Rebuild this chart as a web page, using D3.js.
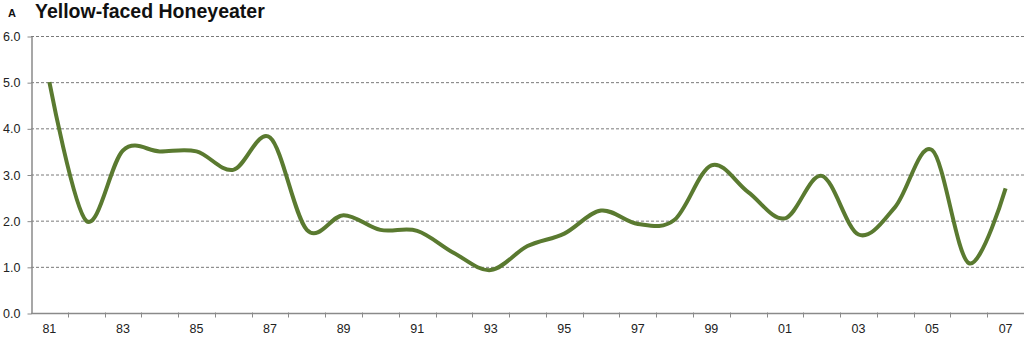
<!DOCTYPE html>
<html>
<head>
<meta charset="utf-8">
<script src="https://cdn.jsdelivr.net/npm/d3@7"></script>
<style>
  body { margin: 0; background: #fff; }
  svg { display: block; font-family: "Liberation Sans", Arial, sans-serif; }
</style>
</head>
<body>
<div class="plot"></div>
<script>
// Data
const years = d3.range(1981, 2008).map(y => String(y).slice(2));
const values = [5.0, 2.0, 3.52, 3.5, 3.5, 3.1, 3.8, 1.8, 2.12, 1.8,
                1.78, 1.3, 0.93, 1.45, 1.72, 2.22, 1.93, 2.02, 3.2, 2.62,
                2.05, 2.97, 1.7, 2.3, 3.53, 1.08, 2.7];
const yTicks = [0, 1, 2, 3, 4, 5, 6];
const title = "Yellow-faced Honeyeater";
const panel = "A";

const W = 1024, H = 337;
const margin = {top: 36, right: 0, bottom: 24, left: 31};
const w = W - margin.left - margin.right;
const h = H - margin.top - margin.bottom;

const svg = d3.select(".plot")
    .append("svg")
        .attr("width", W)
        .attr("height", H);

const g = svg.append("g")
    .attr("transform", "translate(" + margin.left + "," + margin.top + ")");

// scales
const x = d3.scaleBand()
    .domain(years)
    .range([0, w]);
const y = d3.scaleLinear()
    .domain([0, 6])
    .range([h, 0]);

// gridlines
g.selectAll(".grid")
    .data(yTicks.filter(d => d > 0))
    .enter()
    .append("line")
        .attr("class", "grid")
        .attr("x1", 0)
        .attr("x2", w)
        .attr("y1", d => y(d) + 0.5)
        .attr("y2", d => y(d) + 0.5)
        .attr("stroke", "#7a7a7a")
        .attr("stroke-width", 1)
        .attr("stroke-dasharray", "3,2");

// y axis
const yAxis = g.append("g")
    .attr("transform", "translate(0.5,0.5)")
    .call(d3.axisLeft(y).tickValues(yTicks).tickFormat(d3.format(".1f")).tickSize(4).tickSizeOuter(0));
yAxis.select(".domain").attr("stroke", "#8a8a8a").attr("stroke-width", 1.5);
yAxis.selectAll(".tick line").attr("stroke", "#8a8a8a");
yAxis.selectAll("text")
    .attr("x", -11)
    .style("font-size", "12.5px")
    .style("fill", "#222");

// x axis - ticks at band edges, labels on odd years
const xAxis = g.append("g")
    .attr("transform", "translate(0," + (h + 0.5) + ")");
xAxis.append("line")
    .attr("x1", 0).attr("x2", w)
    .attr("stroke", "#8a8a8a").attr("stroke-width", 1.5);
xAxis.selectAll(".xt")
    .data(years)
    .enter()
    .append("line")
        .attr("class", "xt")
        .attr("x1", d => Math.round(x(d) + x.bandwidth()) + 0.5)
        .attr("x2", d => Math.round(x(d) + x.bandwidth()) + 0.5)
        .attr("y1", -1)
        .attr("y2", 4)
        .attr("stroke", "#8a8a8a");
xAxis.selectAll(".xl")
    .data(years.filter((d, i) => i % 2 === 0))
    .enter()
    .append("text")
        .attr("class", "xl")
        .attr("x", d => x(d) + x.bandwidth() / 2)
        .attr("y", 19)
        .attr("text-anchor", "middle")
        .style("font-size", "12.5px")
        .style("fill", "#222")
        .text(d => d);

// line
const line = d3.line()
    .x((d, i) => x(years[i]) + x.bandwidth() / 2)
    .y(d => y(d))
    .curve(d3.curveCardinal.tension(0));

g.append("path")
    .datum(values)
    .attr("fill", "none")
    .attr("stroke", "#5a7a30")
    .attr("stroke-width", 4)
    .attr("stroke-linejoin", "round")
    .attr("d", line);

// title
svg.append("text")
    .attr("x", 8)
    .attr("y", 17)
    .style("font-size", "11px")
    .style("font-weight", "bold")
    .style("fill", "#111")
    .text(panel);
svg.append("text")
    .attr("x", 35)
    .attr("y", 18)
    .style("font-size", "19.5px")
    .style("font-weight", "bold")
    .style("fill", "#111")
    .text(title);
</script>
</body>
</html>
